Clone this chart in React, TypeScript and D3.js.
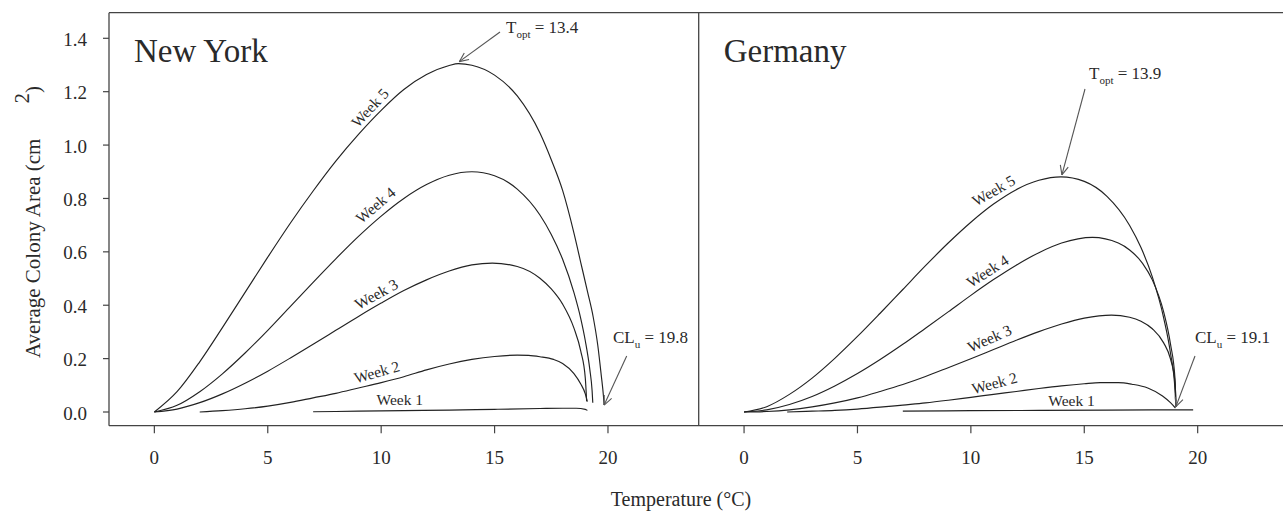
import React from "react";
import * as d3 from "d3";

// ---------- data (temperature °C, average colony area cm²) ----------
const xTicks = [0, 5, 10, 15, 20];
const yTicks = [0, 0.2, 0.4, 0.6, 0.8, 1.0, 1.2, 1.4];

const nyWeek1: [number, number][] = [[7, 0.001], [9, 0.003], [11, 0.005], [13, 0.007], [15, 0.01], [17, 0.013], [18, 0.014], [18.6, 0.014], [19, 0.01], [19.09, 0.006]];
const nyWeek2: [number, number][] = [[2, 0], [3, 0.005], [4, 0.012], [5, 0.022], [6, 0.036], [7, 0.053], [8, 0.07], [9, 0.09], [10, 0.11], [11, 0.132], [12, 0.158], [13, 0.18], [14, 0.197], [15, 0.208], [16, 0.213], [16.5, 0.212], [17, 0.207], [17.6, 0.197], [18, 0.182], [18.5, 0.144], [18.8, 0.105], [19, 0.068], [19.09, 0.039]];
const nyWeek3: [number, number][] = [[0, 0], [1, 0.011], [2, 0.035], [3, 0.068], [4, 0.108], [5, 0.153], [6, 0.2025], [7, 0.254], [8, 0.306], [9, 0.358], [10, 0.408], [11, 0.455], [12, 0.495], [13, 0.528], [14, 0.551], [14.9, 0.558], [16, 0.545], [17, 0.501], [17.5, 0.461], [18, 0.404], [18.5, 0.314], [18.8, 0.228], [19, 0.127], [19.06, 0.04]];
const nyWeek4: [number, number][] = [[0, 0], [1, 0.025], [2, 0.076], [3, 0.143], [4, 0.221], [5, 0.306], [6, 0.396], [7, 0.486], [8, 0.574], [9, 0.658], [10, 0.734], [11, 0.8], [12, 0.852], [13, 0.887], [14, 0.9], [15, 0.885], [16, 0.835], [17, 0.738], [17.5, 0.665], [18, 0.572], [18.5, 0.447], [18.8, 0.35], [19, 0.267], [19.2, 0.159], [19.3, 0.08], [19.33, 0.035]];
const nyWeek5: [number, number][] = [[0, 0], [1, 0.076], [2, 0.188], [3, 0.316], [4, 0.448], [5, 0.58], [6, 0.708], [7, 0.828], [8, 0.94], [9, 1.04], [10, 1.13], [11, 1.208], [12, 1.264], [13, 1.298], [13.4, 1.305], [14, 1.299], [15, 1.262], [16, 1.184], [17, 1.045], [17.5, 0.945], [18, 0.83], [18.5, 0.67], [18.8, 0.56], [19.1, 0.45], [19.35, 0.355], [19.55, 0.25], [19.7, 0.14], [19.8, 0.06], [19.83, 0.026]];

const deWeek1: [number, number][] = [[7, 0.003], [10, 0.005], [13, 0.006], [16, 0.007], [19, 0.008], [19.8, 0.008]];
const deWeek2: [number, number][] = [[1.9, 0], [3, 0.003], [4, 0.006], [5, 0.011], [6, 0.018], [7, 0.026], [8, 0.034], [9, 0.044], [10, 0.055], [11, 0.066], [12, 0.077], [13, 0.088], [14, 0.098], [15, 0.106], [15.7, 0.11], [16.5, 0.11], [17.1, 0.104], [17.8, 0.09], [18.45, 0.06], [18.8, 0.035], [19.02, 0.015]];
const deWeek3: [number, number][] = [[0, 0], [1, 0.002], [2, 0.008], [3, 0.019], [4, 0.034], [5, 0.053], [6, 0.077], [7, 0.103], [8, 0.133], [9, 0.166], [10, 0.1995], [11, 0.234], [12, 0.2685], [13, 0.301], [14, 0.3295], [15, 0.3515], [16.2, 0.363], [17, 0.355], [17.5, 0.34], [18, 0.312], [18.5, 0.259], [18.8, 0.199], [19, 0.111], [19.04, 0.04]];
const deWeek4: [number, number][] = [[0, 0], [1, 0.008], [2, 0.028], [3, 0.058], [4, 0.0975], [5, 0.144], [6, 0.1965], [7, 0.2535], [8, 0.314], [9, 0.375], [10, 0.437], [11, 0.496], [12, 0.55], [13, 0.597], [14, 0.633], [15.36, 0.654], [16.5, 0.633], [17, 0.607], [17.57, 0.557], [18, 0.495], [18.5, 0.375], [18.8, 0.255], [19, 0.125], [19.04, 0.03]];
const deWeek5: [number, number][] = [[0, 0], [1, 0.02], [2, 0.066], [3, 0.127], [4, 0.201], [5, 0.283], [6, 0.37], [7, 0.459], [8, 0.548], [9, 0.633], [10, 0.711], [11, 0.779], [12, 0.833], [13, 0.868], [13.97, 0.881], [15, 0.864], [16, 0.808], [17, 0.699], [17.5, 0.616], [18, 0.506], [18.5, 0.353], [18.8, 0.221], [19, 0.082], [19.04, 0.02]];

const weekNames = ["Week 1", "Week 2", "Week 3", "Week 4", "Week 5"];
const nySeries = [nyWeek1, nyWeek2, nyWeek3, nyWeek4, nyWeek5];
const deSeries = [deWeek1, deWeek2, deWeek3, deWeek4, deWeek5];

// label anchors (data coords) and rotation, per week
const nyLabelT = [10.82, 9.81, 9.78, 9.75, 9.5];
const nyLabelY = [0.045, 0.15, 0.442, 0.775, 1.14];
const nyLabelAngle = [0, -16, -29, -40, -47];
const deLabelT = [14.44, 11.04, 10.82, 10.74, 11.0];
const deLabelY = [0.041, 0.109, 0.276, 0.528, 0.83];
const deLabelAngle = [0, -15, -24, -33, -30];

const nyTopt = { t: 13.4, y: 1.305, label: "13.4" };
const nyCL = { t: 19.83, y: 0.026, label: "19.8" };
const deTopt = { t: 13.97, y: 0.881, label: "13.9" };
const deCL = { t: 19.04, y: 0.02, label: "19.1" };

// ---------- layout ----------
const W = 1283;
const H = 511;
const boxTop = 12.7;
const boxBottom = 425.7;
const leftX0 = 109;
const midX = 698.7;
const rightX1 = 1288.4;

const FONT = "'Liberation Serif', 'Times New Roman', Times, serif";
const INK = "#2a2a2a";
const AXIS = "#444";

function Arrow({ x1, y1, x2, y2 }: { x1: number; y1: number; x2: number; y2: number }) {
  const ang = Math.atan2(y2 - y1, x2 - x1);
  const len = 10;
  const spread = (24 * Math.PI) / 180;
  const a1 = ang + Math.PI - spread;
  const a2 = ang + Math.PI + spread;
  return (
    <g stroke="#555" strokeWidth={1.1} fill="none">
      <line x1={x1} y1={y1} x2={x2} y2={y2} />
      <line x1={x2} y1={y2} x2={x2 + len * Math.cos(a1)} y2={y2 + len * Math.sin(a1)} />
      <line x1={x2} y1={y2} x2={x2 + len * Math.cos(a2)} y2={y2 + len * Math.sin(a2)} />
    </g>
  );
}

function Panel({
  x0, x1, title, series, labT, labY, labA, topt, cl, toptText, toptArrow, clText, clArrow,
}: any) {
  const x = d3.scaleLinear().domain([-2, 24]).range([x0, x1]);
  const y = d3.scaleLinear().domain([0, 1.4]).range([412, 38.3]);
  const line = d3
    .line<[number, number]>()
    .x((d) => x(d[0]))
    .y((d) => y(d[1]))
    .curve(d3.curveMonotoneX);
  return (
    <g>
      <text x={x0 + 25} y={62} fontSize={33} fill={INK} fontFamily={FONT}>
        {title}
      </text>
      {series.map((s: [number, number][], i: number) => (
        <path key={i} d={line(s) || ""} fill="none" stroke="#222" strokeWidth={1.15} />
      ))}
      {series.map((_: any, i: number) => (
        <text
          key={"l" + i}
          transform={`translate(${x(labT[i])},${y(labY[i])}) rotate(${labA[i]})`}
          textAnchor="middle"
          dy="0.35em"
          fontSize={15.5}
          fill={INK}
          fontFamily={FONT}
        >
          {weekNames[i]}
        </text>
      ))}
      {xTicks.map((t) => (
        <g key={t}>
          <line x1={x(t)} x2={x(t)} y1={boxBottom} y2={boxBottom + 7.6} stroke={AXIS} strokeWidth={1.2} />
          <text x={x(t)} y={464} textAnchor="middle" fontSize={19} fill={INK} fontFamily={FONT}>
            {t}
          </text>
        </g>
      ))}
      {/* T opt annotation */}
      <text x={toptText[0]} y={toptText[1]} fontSize={17} fill={INK} fontFamily={FONT}>
        T
        <tspan fontSize={11} dy={5}>opt</tspan>
        <tspan dy={-5}>{" = " + topt.label}</tspan>
      </text>
      <Arrow x1={toptArrow[0]} y1={toptArrow[1]} x2={x(topt.t) + 1} y2={y(topt.y) - 2} />
      {/* CL annotation */}
      <text x={clText[0]} y={clText[1]} fontSize={17} fill={INK} fontFamily={FONT}>
        CL
        <tspan fontSize={11} dy={5}>u</tspan>
        <tspan dy={-5}>{" = " + cl.label}</tspan>
      </text>
      <Arrow x1={clArrow[0]} y1={clArrow[1]} x2={x(cl.t)} y2={y(cl.y)} />
    </g>
  );
}

export default function App() {
  const y = d3.scaleLinear().domain([0, 1.4]).range([412, 38.3]);
  return (
    <svg
      width={W}
      height={H}
      viewBox={`0 0 ${W} ${H}`}
      style={{ position: "absolute", left: 0, top: 0, background: "#fff" }}
    >
      <rect x={0} y={0} width={W} height={H} fill="#fff" />
      {/* frame */}
      <g stroke={AXIS} strokeWidth={1.3} fill="none">
        <line x1={leftX0} y1={boxTop} x2={W + 5} y2={boxTop} />
        <line x1={leftX0} y1={boxBottom} x2={W + 5} y2={boxBottom} />
        <line x1={leftX0} y1={boxTop} x2={leftX0} y2={boxBottom} />
        <line x1={midX} y1={boxTop} x2={midX} y2={boxBottom} />
      </g>
      {/* y axis */}
      {yTicks.map((t) => (
        <g key={t}>
          <line x1={leftX0 - 6} x2={leftX0} y1={y(t)} y2={y(t)} stroke={AXIS} strokeWidth={1.2} />
          <text x={87} y={y(t) + 7.5} textAnchor="end" fontSize={19} fill={INK} fontFamily={FONT}>
            {t.toFixed(1)}
          </text>
        </g>
      ))}
      <text transform="translate(40,358) rotate(-90)" fontSize={21} fill={INK} fontFamily={FONT}>
        Average Colony Area (cm
        <tspan dx={35} dy={-11.5}>2</tspan>
        <tspan dy={11.5}>)</tspan>
      </text>
      <text x={681} y={506} textAnchor="middle" fontSize={20} fill={INK} fontFamily={FONT}>
        Temperature (°C)
      </text>
      <Panel
        x0={leftX0}
        x1={midX}
        title="New York"
        series={nySeries}
        labT={nyLabelT}
        labY={nyLabelY}
        labA={nyLabelAngle}
        topt={nyTopt}
        cl={nyCL}
        toptText={[506, 33]}
        toptArrow={[500, 32]}
        clText={[613, 343]}
        clArrow={[626.7, 356]}
      />
      <Panel
        x0={midX}
        x1={rightX1}
        title="Germany"
        series={deSeries}
        labT={deLabelT}
        labY={deLabelY}
        labA={deLabelAngle}
        topt={deTopt}
        cl={deCL}
        toptText={[1089, 79]}
        toptArrow={[1085, 89]}
        clText={[1195, 343]}
        clArrow={[1195, 356]}
      />
    </svg>
  );
}
